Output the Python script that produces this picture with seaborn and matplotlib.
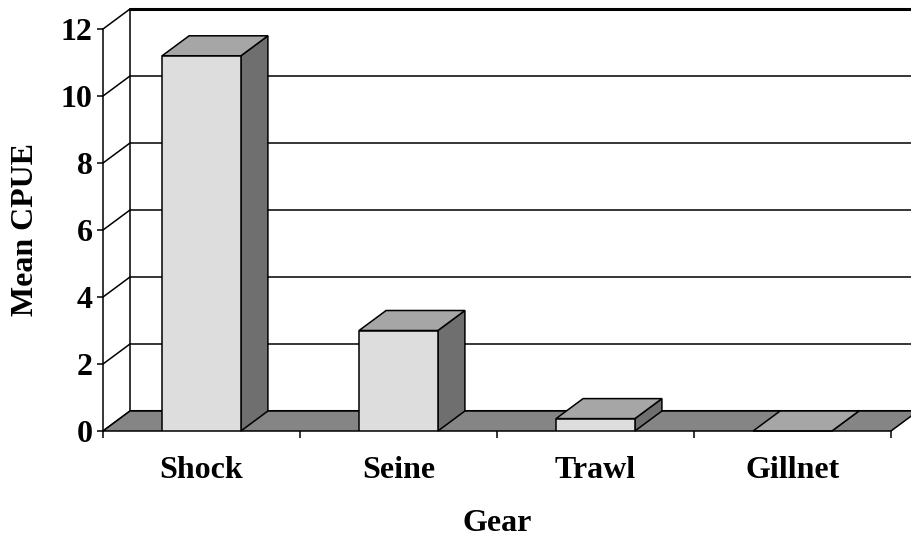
import numpy as np
import pandas as pd
import seaborn as sns
import matplotlib.pyplot as plt
from matplotlib.patches import Polygon

# Datos
gear = ["Shock", "Seine", "Trawl", "Gillnet"]
cpue = [11.2, 3.0, 0.37, 0.0]
y_ticks = [0, 2, 4, 6, 8, 10, 12]

df = pd.DataFrame({"Gear": gear, "Mean CPUE": cpue})

sns.set_style("white")
plt.rcParams["font.family"] = ["Liberation Serif", "DejaVu Serif"]
plt.rcParams["font.weight"] = "bold"
plt.rcParams["text.color"] = "black"
plt.rcParams["axes.labelcolor"] = "black"
plt.rcParams["xtick.color"] = "black"
plt.rcParams["ytick.color"] = "black"

# colores tipo Excel 3D (escala de grises)
c_front = "#DDDDDD"
c_top = "#A6A6A6"
c_side = "#6F6F6F"
c_floor = "#858585"

fig = plt.figure(figsize=(9.11, 5.38), dpi=100)
ax = fig.add_axes([103 / 911, 1 - 431 / 538, 788 / 911, 402 / 538])

sns.barplot(data=df, x="Gear", y="Mean CPUE", color=c_front, width=0.4,
            edgecolor="black", linewidth=1.1, saturation=1, ax=ax, zorder=3)

ax.set_xlim(-0.5, 3.5)
ax.set_ylim(0, 12)

# profundidad en unidades de datos (27 px a la derecha, 20 px hacia arriba)
dx = 27 / 197
dy = 20 / 33.5

# pared del fondo: lineas de rejilla en el plano trasero
for t in y_ticks:
    lw = 2.2 if t in (0, 12) else 1.1
    ax.plot([-0.5 + dx, 3.5 + dx + 0.2], [t + dy, t + dy], color="black",
            lw=lw, clip_on=False, zorder=0.3)
    # pared lateral izquierda
    ax.plot([-0.5, -0.5 + dx], [t, t + dy], color="black", lw=1.1,
            clip_on=False, zorder=0.3)
ax.plot([-0.5 + dx, -0.5 + dx], [dy, 12 + dy], color="black", lw=1.1,
        clip_on=False, zorder=0.3)

# suelo
floor = Polygon([(-0.5, 0), (3.5, 0), (3.5 + dx, dy), (-0.5 + dx, dy)],
                closed=True, facecolor=c_floor, edgecolor="black", lw=1.1,
                clip_on=False, zorder=0.5)
ax.add_patch(floor)

# caras superior y lateral de cada barra
for p in ax.patches:
    if p is floor:
        continue
    x0 = p.get_x()
    x1 = x0 + p.get_width()
    h = p.get_height()
    side = Polygon([(x1, 0), (x1 + dx, dy), (x1 + dx, h + dy), (x1, h)],
                   closed=True, facecolor=c_side, edgecolor="black", lw=1.1,
                   clip_on=False, zorder=2.5)
    top = Polygon([(x0, h), (x1, h), (x1 + dx, h + dy), (x0 + dx, h + dy)],
                  closed=True, facecolor=c_top, edgecolor="black", lw=1.1,
                  clip_on=False, zorder=2.6)
    ax.add_patch(side)
    ax.add_patch(top)

# ejes
sns.despine(ax=ax, top=True, right=True)
ax.spines["left"].set_linewidth(1.1)
ax.spines["left"].set_color("black")
ax.spines["bottom"].set_visible(False)
ax.set_yticks(y_ticks)
ax.tick_params(axis="y", length=4.5, width=1.1, pad=3, labelsize=23, left=True)
ax.set_xticks(range(len(gear)))
ax.set_xticklabels(gear)
ax.set_xticks(np.arange(-0.5, 4.0, 1.0), minor=True)
ax.tick_params(axis="x", which="major", length=0, pad=18, labelsize=23)
ax.tick_params(axis="x", which="minor", length=5, width=1.1, bottom=True)
for lbl in ax.get_xticklabels() + ax.get_yticklabels():
    lbl.set_fontweight("bold")

ax.set_ylabel("Mean CPUE", fontsize=23, fontweight="bold", labelpad=15)
ax.set_xlabel("Gear", fontsize=23, fontweight="bold", labelpad=17)

fig.savefig("out.png", dpi=100)
